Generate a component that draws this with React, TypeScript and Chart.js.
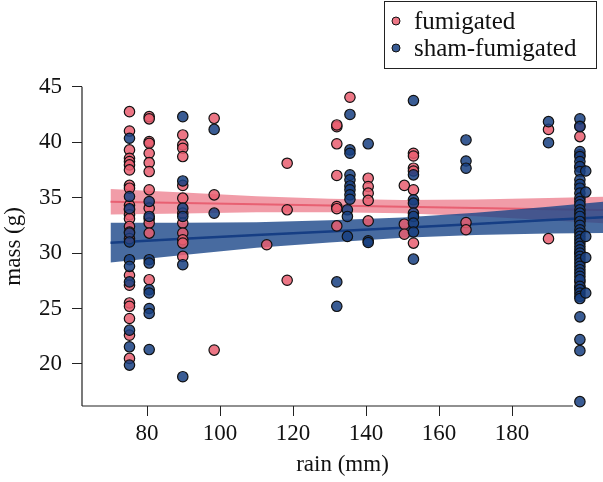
import React, { useEffect, useRef } from "react";
import { Chart, registerables } from "chart.js";

Chart.register(...registerables);

// ---- data (rain in mm, mass in g) ----
const fumigatedByRain: [number, number[]][] = [
  [75.2, [42.75, 41.0, 39.3, 38.55, 38.25, 37.95, 37.5, 36.1, 35.85, 34.3, 33.9, 33.45, 33.1, 32.4, 31.9, 31.3, 28.0, 27.1, 25.5, 25.2, 24.1, 22.6, 20.5]],
  [80.6, [42.3, 42.1, 40.05, 39.9, 39.0, 38.15, 37.35, 35.7, 34.05, 33.1, 32.7, 31.8, 27.6]],
  [89.8, [40.65, 39.75, 39.45, 38.7, 36.1, 34.95, 33.6, 32.7, 31.8, 31.2, 30.9, 29.7]],
  [98.4, [42.15, 35.25, 21.25]],
  [112.8, [30.75]],
  [118.4, [38.1, 33.9, 27.55]],
  [132.0, [41.4, 41.55, 39.85, 37.0, 34.2, 34.0, 32.45]],
  [135.6, [44.05]],
  [140.6, [36.75, 36.0, 35.4, 34.75, 32.9]],
  [150.5, [36.1, 32.6, 31.7]],
  [153.0, [39.0, 38.75, 37.65, 37.4, 35.7, 30.9]],
  [167.4, [32.75, 32.1]],
  [190.0, [41.15, 31.3]],
  [198.6, [41.45, 40.5, 38.85, 37.75, 33.0, 30.0, 27.4, 26.9]],
];

const shamByRain: [number, number[]][] = [
  [75.2, [40.35, 35.1, 34.0, 31.8, 31.0, 29.4, 28.8, 27.4, 23.05, 21.55, 19.9]],
  [80.6, [34.65, 33.3, 29.4, 29.1, 26.7, 26.4, 25.0, 24.55, 21.3]],
  [89.8, [42.3, 36.5, 34.05, 33.3, 28.95, 18.85]],
  [98.4, [41.15, 33.6]],
  [132.0, [27.4, 25.2]],
  [135.6, [42.5, 39.3, 39.0, 37.05, 36.6, 36.05, 35.7, 35.25, 34.85]],
  [134.9, [33.9, 33.3, 31.5]],
  [140.6, [39.85, 31.1, 30.95]],
  [153.0, [43.75, 37.05, 34.8, 34.5, 33.6, 33.3, 32.7, 31.9, 29.45]],
  [167.4, [40.2, 38.3, 37.65]],
  [190.0, [41.85, 39.95]],
  [198.6, [42.1, 41.4, 39.15, 38.7, 38.25, 37.8, 37.35, 36.6, 36.2, 35.85, 35.4, 34.95, 34.65, 34.35, 33.9, 33.6, 33.3, 32.85, 32.5, 32.1, 31.8, 31.5, 31.2, 30.9, 30.6, 30.3, 30.0, 29.7, 29.4, 29.1, 28.8, 28.5, 28.2, 27.9, 27.6, 27.0, 26.7, 26.4, 26.1, 25.9, 24.25, 22.2, 21.2, 16.6]],
  [200.2, [37.4, 35.5, 31.5, 29.6, 26.4]],
];

// fitted regression lines with confidence bands
const fitRain = [70, 90, 110, 130, 150, 170, 190, 205];
const fumigatedFit = [34.62, 34.51, 34.4, 34.29, 34.18, 34.07, 33.96, 33.88];
const fumigatedUpper = [35.77, 35.46, 35.12, 34.89, 34.78, 34.82, 34.96, 35.08];
const fumigatedLower = [33.47, 33.56, 33.68, 33.69, 33.58, 33.32, 32.96, 32.68];
const shamFit = [30.94, 31.28, 31.62, 31.95, 32.29, 32.63, 32.97, 33.22];
const shamUpper = [32.74, 32.73, 32.77, 32.95, 33.21, 33.63, 34.17, 34.62];
const shamLower = [29.14, 29.83, 30.47, 30.95, 31.37, 31.63, 31.77, 31.82];

const xTicks = [80, 100, 120, 140, 160, 180];
const yTicks = [20, 25, 30, 35, 40, 45];
const xRange = [62.19, 204.93];
const yRange = [16.21, 45];
const xAxisLineExtent = [62.19, 196.7];

const seriesNames = ["fumigated", "sham-fumigated"];

// ---- styles ----
const FONT = "'Liberation Serif', 'Times New Roman', serif";
const PINK_PT = "rgba(233,94,112,0.85)";
const BLUE_PT = "rgba(24,64,129,0.85)";
const PINK_BAND = "rgba(232,90,110,0.6)";
const BLUE_BAND = "rgba(26,70,136,0.8)";
const PINK_LINE = "rgb(232,96,114)";
const BLUE_LINE = "rgb(22,62,132)";

const toPoints = (cols: [number, number[]][]) =>
  cols.flatMap(([r, ms]) => ms.map((m) => ({ x: r, y: m })));
const toLine = (ys: number[]) => fitRain.map((x, i) => ({ x, y: ys[i] }));

const axesPlugin = {
  id: "axesLines",
  beforeDatasetsDraw(chart: any) {
    const { ctx, scales } = chart;
    const x = scales.x;
    const y = scales.y;
    ctx.save();
    ctx.strokeStyle = "#222";
    ctx.lineWidth = 1.2;
    ctx.beginPath();
    const yb = y.getPixelForValue(yRange[0]);
    ctx.moveTo(x.getPixelForValue(xAxisLineExtent[0]), yb);
    ctx.lineTo(x.getPixelForValue(xAxisLineExtent[1]), yb);
    ctx.moveTo(x.left, y.getPixelForValue(yRange[1]));
    ctx.lineTo(x.left, yb);
    ctx.stroke();
    ctx.restore();
  },
};

const legendPlugin = {
  id: "boxLegend",
  afterDraw(chart: any) {
    const { ctx } = chart;
    ctx.save();
    ctx.strokeStyle = "#222";
    ctx.lineWidth = 1;
    ctx.fillStyle = "#fff";
    ctx.fillRect(384.5, 1.5, 212, 67);
    ctx.strokeRect(384.5, 1.5, 212, 67);
    const colors = [PINK_PT, BLUE_PT];
    seriesNames.forEach((name, i) => {
      const cy = 21 + i * 27;
      ctx.beginPath();
      ctx.arc(396, cy, 4, 0, Math.PI * 2);
      ctx.fillStyle = colors[i];
      ctx.fill();
      ctx.strokeStyle = "#111";
      ctx.lineWidth = 1;
      ctx.stroke();
      ctx.fillStyle = "#111";
      ctx.font = `25px ${FONT}`;
      ctx.textBaseline = "middle";
      ctx.textAlign = "left";
      ctx.fillText(name, 414, cy + 1);
    });
    ctx.restore();
  },
};

export default function App() {
  const ref = useRef<HTMLCanvasElement | null>(null);

  useEffect(() => {
    document.body.style.margin = "0";
    const canvas = ref.current;
    if (!canvas) return;
    const tickFont = { family: FONT, size: 23 };
    const chart = new Chart(canvas, {
      type: "scatter",
      data: {
        datasets: [
          {
            label: seriesNames[1],
            data: toPoints(shamByRain),
            backgroundColor: BLUE_PT,
            borderColor: "#111",
            borderWidth: 1.2,
            pointRadius: 5.2,
            order: 0,
            clip: false,
          } as any,
          {
            label: seriesNames[0],
            data: toPoints(fumigatedByRain),
            backgroundColor: PINK_PT,
            borderColor: "#111",
            borderWidth: 1.2,
            pointRadius: 5.2,
            order: 1,
            clip: false,
          },
          {
            type: "line",
            label: "sham fit",
            data: toLine(shamFit),
            borderColor: BLUE_LINE,
            borderWidth: 2.5,
            pointRadius: 0,
            fill: false,
            order: 2,
          },
          {
            type: "line",
            label: "sham upper",
            data: toLine(shamUpper),
            borderWidth: 0,
            borderColor: "rgba(0,0,0,0)",
            backgroundColor: BLUE_BAND,
            pointRadius: 0,
            fill: { target: 4 },
            order: 3,
          },
          {
            type: "line",
            label: "sham lower",
            data: toLine(shamLower),
            borderWidth: 0,
            borderColor: "rgba(0,0,0,0)",
            pointRadius: 0,
            fill: false,
            order: 3,
          },
          {
            type: "line",
            label: "fum fit",
            data: toLine(fumigatedFit),
            borderColor: PINK_LINE,
            borderWidth: 2,
            pointRadius: 0,
            fill: false,
            order: 5,
          },
          {
            type: "line",
            label: "fum upper",
            data: toLine(fumigatedUpper),
            borderWidth: 0,
            borderColor: "rgba(0,0,0,0)",
            backgroundColor: PINK_BAND,
            pointRadius: 0,
            fill: { target: 7 },
            order: 6,
          },
          {
            type: "line",
            label: "fum lower",
            data: toLine(fumigatedLower),
            borderWidth: 0,
            borderColor: "rgba(0,0,0,0)",
            pointRadius: 0,
            fill: false,
            order: 6,
          },
        ] as any,
      },
      options: {
        animation: false,
        responsive: false,
        layout: { autoPadding: false, padding: { top: 86.7, left: 0, right: 0, bottom: 0 } },
        plugins: { legend: { display: false }, tooltip: { enabled: false } },
        scales: {
          x: {
            type: "linear",
            min: xRange[0],
            max: xRange[1],
            afterBuildTicks: (s: any) => {
              s.ticks = xTicks.map((v) => ({ value: v }));
            },
            afterFit: (s: any) => {
              s.height = 76;
            },
            border: { display: false },
            grid: { drawOnChartArea: false, drawTicks: true, tickLength: 10, tickColor: "#222", tickWidth: 1 },
            ticks: { font: tickFont, color: "#111", padding: 4, maxRotation: 0, autoSkip: false },
            title: { display: true, text: "rain (mm)", font: tickFont, color: "#111", padding: { top: 0, bottom: 3 } },
          },
          y: {
            type: "linear",
            min: yRange[0],
            max: yRange[1],
            afterBuildTicks: (s: any) => {
              s.ticks = yTicks.map((v) => ({ value: v }));
            },
            afterFit: (s: any) => {
              s.width = 82;
            },
            border: { display: false },
            grid: { drawOnChartArea: false, drawTicks: true, tickLength: 10, tickColor: "#222", tickWidth: 1 },
            ticks: { font: tickFont, color: "#111", padding: 10, autoSkip: false },
            title: { display: true, text: "mass (g)", font: tickFont, color: "#111", padding: { top: 0, bottom: 0 } },
          },
        },
      } as any,
      plugins: [axesPlugin, legendPlugin],
    });
    return () => chart.destroy();
  }, []);

  return (
    <div style={{ width: 603, height: 482, background: "#fff" }}>
      <canvas ref={ref} width={603} height={482} style={{ width: 603, height: 482, display: "block" }} />
    </div>
  );
}
